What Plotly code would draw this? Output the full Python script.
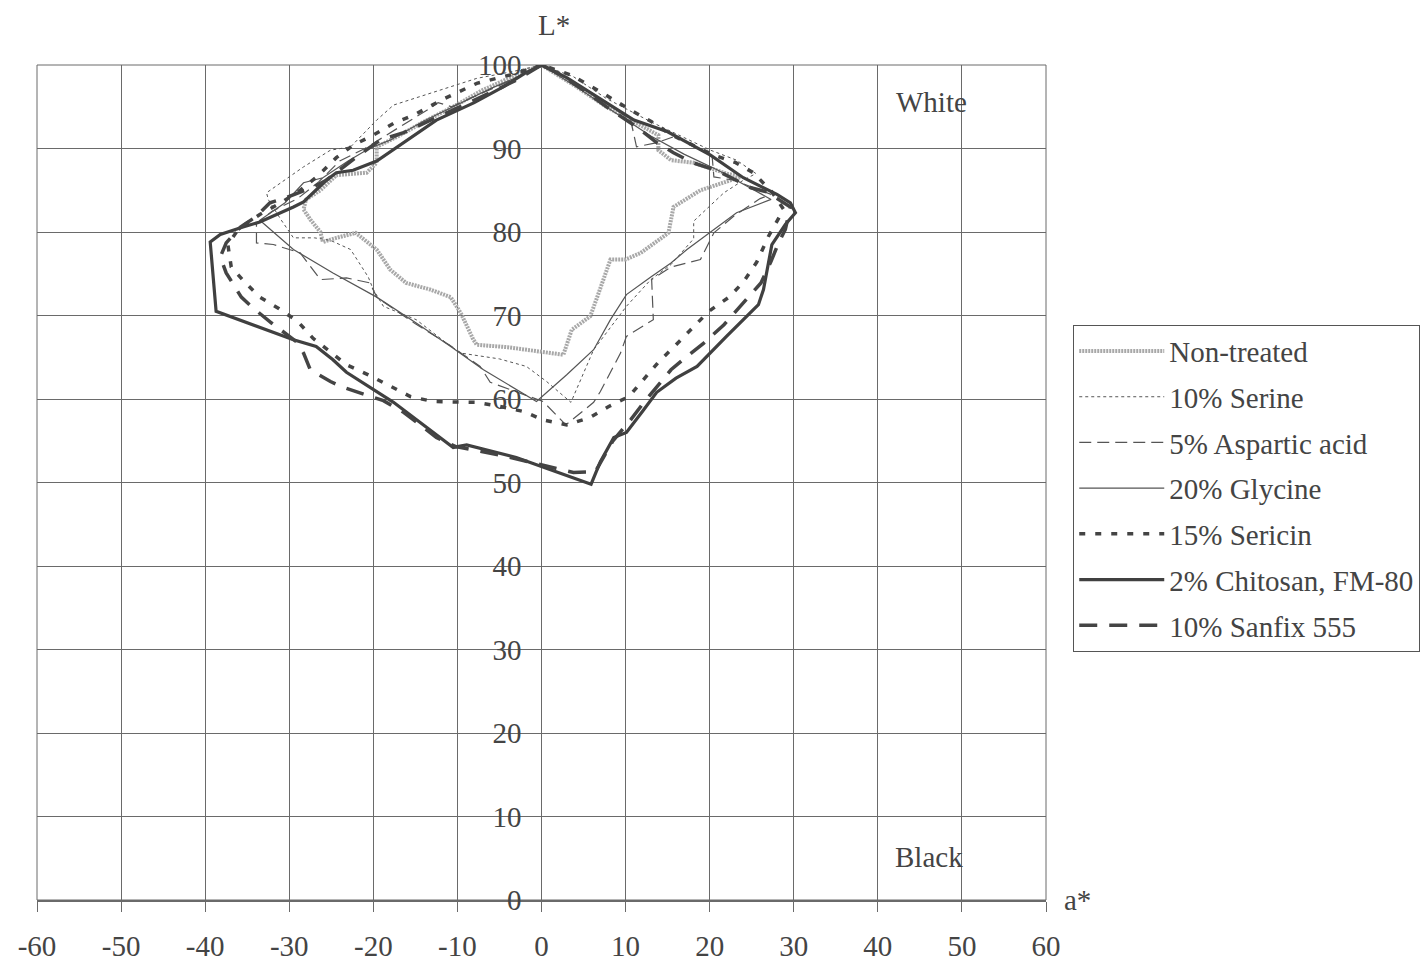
import plotly.graph_objects as go

# ---- colour coordinates (a*, L*) traced around each loop ----
nontreated_a = [0, -3, -7, -10.5, -14, -17, -19.6, -19.6, -20.8, -24.4, -26.3, -28, -28.3, -27.5, -26.3, -26,
                -24.4, -22.1, -19.6, -18, -16.1, -13.2, -10.8, -9.6, -8.1, -7.7, -4, 2.6, 3.6, 5.8, 6.8, 8.2,
                10, 11.8, 15.1, 15.7, 18.9, 22, 23.7, 22, 18.1, 15.4, 13.9, 13.9, 9.8, 7.7, 4, 0]
nontreated_L = [100, 98.8, 97, 95, 93.2, 91.5, 90.2, 88.3, 87.1, 86.8, 85, 83.9, 82.7, 81.5, 80, 78.8,
                79.3, 79.9, 77.9, 75.5, 73.9, 73.1, 72.2, 70.3, 67.1, 66.5, 66.2, 65.3, 68.3, 69.9, 72.7, 76.7,
                76.7, 77.5, 79.9, 83, 85, 86, 86.6, 87, 88.3, 88.6, 89.8, 91.6, 93.8, 95, 97.5, 100]

serine_a = [0, -3.5, -7.7, -12, -16.4, -17.6, -19.6, -22.7, -25.1, -28.3, -32.7, -32.5, -31, -29.5, -27, -25.1,
            -22.7, -20.6, -20, -18.8, -14.9, -11.3, -9.6, -5, -1.8, 0.6, 3.5, 4.5, 6.2, 7.7, 10.1, 13, 15.4,
            18.1, 18.1, 21.7, 24, 25.5, 23.2, 20.1, 13, 7.7, 3.8, 0]
serine_L = [100, 99.2, 98.4, 97, 95.6, 95.2, 93.4, 90.2, 89.8, 87.8, 84.7, 83.9, 81.5, 79.3, 79.3, 79,
            77.9, 74.6, 73.1, 71.1, 69.5, 66.7, 65.5, 64.8, 63.9, 62.1, 59.6, 62, 65.9, 67.9, 71.1, 74.3, 76.1,
            79.2, 81.3, 84.7, 86.2, 87, 88.6, 89.8, 93.2, 96, 98.6, 100]

aspartic_a = [0, -4, -8.5, -10.7, -12.3, -13.1, -17, -21, -24, -26.5, -29, -32, -33.9, -33.9, -31.9, -28.7,
              -26.3, -23.2, -20.4, -19.6, -15, -11, -7.3, -6.1, 0.2, 2.9, 6.2, 7, 9.4, 10.1, 13.3, 13.1, 15.4,
              18.9, 20.5, 23, 26, 27.3, 22.9, 20.5, 20.3, 16, 13.7, 11.3, 11, 10.6, 7, 3, 0]
aspartic_L = [100, 98, 96, 95, 95.5, 94.9, 92.5, 90, 88.5, 86, 84, 82.5, 81, 78.7, 78.5, 77.5,
              74.3, 74.5, 73.9, 72.2, 69, 66.5, 63.9, 62, 59.7, 56.9, 59.6, 60.9, 65.5, 67.5, 69.5, 74.3, 75.8,
              76.7, 79.9, 82, 84, 84.5, 86.2, 86.6, 89, 91.5, 90.7, 90.2, 91.6, 93.4, 96, 98.5, 100]

glycine_a = [0, -3, -6, -10, -14, -18, -20.5, -23, -26, -28.3, -30.5, -33.5, -29.5, -24.8, -19.6, -14.9,
             -10.8, -6.9, -0.6, 3, 6.2, 8.2, 10.1, 13, 15.4, 17.3, 20.1, 23.2, 27.3, 25, 21, 17, 13, 8, 4, 0]
glycine_L = [100, 98.5, 97.2, 95.2, 93.3, 91, 90, 88.5, 86.5, 85.9, 83.5, 81.4, 77.9, 75.1, 72.2, 69.1,
             66.3, 63.5, 59.7, 62.9, 65.9, 69.5, 72.5, 74.6, 76.3, 77.9, 80, 82.3, 83.9, 85.2, 87.4, 89.3, 91.5,
             94.8, 97.5, 100]

sericin_a = [0, -3, -7.7, -11.5, -15.2, -17.6, -20, -22.4, -24.4, -26.5, -28.7, -31, -33.5, -36, -37.3,
             -36.9, -35.3, -33.5, -31.2, -29, -27.2, -25, -23.2, -20.6, -18, -15.6, -12.9, -10.1, -7.7, -4.9,
             -2.1, 0.2, 3, 5.8, 8, 10.4, 12.1, 13.9, 16, 17.9, 19.9, 22.3, 24, 25.6, 27, 28.8, 27.4, 25.2,
             23.1, 20.5, 18.1, 15.5, 13.1, 10.6, 7, 3.5, 0]
sericin_L = [100, 99, 97.8, 96, 94, 93, 91.6, 90.4, 88.9, 86.8, 85, 83.5, 82.1, 80.4, 78.5,
             75.8, 74, 72.2, 70.8, 69.3, 67.3, 65.6, 64.1, 62.9, 61.5, 60.3, 59.7, 59.7, 59.6, 59.1,
             58.5, 57.5, 56.9, 57.8, 59.1, 60.3, 62.3, 64.4, 66.5, 68.5, 70.5, 72.2, 74, 76.4, 79.5, 82.7, 84.8, 87.1,
             88.3, 89.2, 90.4, 91.6, 93.2, 94.6, 96.8, 98.8, 100]

chitosan_a = [0, -2, -4.5, -8, -12.5, -16, -19.6, -22.4, -24.4, -25.6, -28.3, -29.5, -33.5, -35.5, -38.2,
              -39.4, -38.7, -29.5, -26.8, -24.8, -23.2, -17.6, -10.5, -8.9, -3, 5.9, 7, 8.6, 10.1, 12, 13.7,
              16, 18.5, 22, 25.8, 26.4, 27.4, 29, 30.2, 29.6, 28, 24, 20.1, 15, 11, 7.7, 3, 0]
chitosan_L = [100, 99, 97.4, 95.5, 93.4, 91, 88.5, 87.4, 87.1, 86.2, 83.6, 83, 81.2, 80.6, 79.7,
              78.8, 70.5, 67.1, 66.3, 64.7, 63.2, 59.6, 54.2, 54.5, 53, 49.8, 52.5, 55.4, 56, 58.5, 60.8,
              62.5, 63.9, 67.5, 71.3, 73.1, 78.5, 80.9, 82.3, 83.5, 84.5, 86.5, 89.2, 92, 93.4, 95.5, 98.5, 100]

sanfix_a = [0, -3, -5.4, -9, -13.2, -16.4, -19.2, -22, -25.6, -27.1, -30.4, -32.3, -34, -35.8, -37.5, -38.2,
            -37.5, -35.7, -34.3, -32.1, -29.2, -28.3, -27.5, -25.1, -23.6, -20.8, -18.8, -16.4, -14.4, -12.5,
            -10.2, -5, 3.8, 6.4, 8.5, 10.6, 12.1, 13.7, 15.4, 17.3, 19.3, 21.7, 24.4, 26.1, 27.3, 28.2, 29,
            29.6, 26.8, 24.9, 21, 18, 15.7, 13.7, 11.3, 8, 5, 2, 0]
sanfix_L = [100, 98.2, 97, 95.3, 93.4, 91.9, 91, 89, 86.2, 85.4, 84.1, 83.5, 81.8, 80.6, 78.7, 77,
            75.1, 72.2, 70.9, 69.1, 66.9, 65.5, 63.5, 62.1, 61.4, 60.5, 59.8, 58.4, 56.9, 55.4,
            54.3, 53.3, 51.2, 51.3, 55, 57.5, 59.5, 61.5, 63.5, 65.1, 66.7, 68.9, 71.9, 73.9, 76.5, 78.7, 80.3,
            83, 84.8, 85.3, 87.3, 88.3, 89.5, 90.7, 92.6, 94.8, 97, 99, 100]

series_names = ["Non-treated", "10% Serine", "5% Aspartic acid", "20% Glycine",
                "15% Sericin", "2% Chitosan, FM-80", "10% Sanfix 555"]

x_ticks = [-60, -50, -40, -30, -20, -10, 0, 10, 20, 30, 40, 50, 60]
y_ticks = [0, 10, 20, 30, 40, 50, 60, 70, 80, 90, 100]

FONT = "Liberation Serif"
FS = 29
INK = "#444444"
GRID = "#6a6a6a"

styles = [
    dict(color="#a8a8a8", width=4, dash="2px,1px"),
    dict(color="#555555", width=1, dash="3px,3px"),
    dict(color="#555555", width=1.2, dash="12px,6px"),
    dict(color="#555555", width=1.2, dash="solid"),
    dict(color="#444444", width=3.5, dash="6px,10px"),
    dict(color="#404040", width=3.2, dash="solid"),
    dict(color="#444444", width=3.5, dash="18px,12px"),
]

data = [
    (nontreated_a, nontreated_L),
    (serine_a, serine_L),
    (aspartic_a, aspartic_L),
    (glycine_a, glycine_L),
    (sericin_a, sericin_L),
    (chitosan_a, chitosan_L),
    (sanfix_a, sanfix_L),
]

fig = go.Figure()
for i, (name, (a, L), st) in enumerate(zip(series_names, data, styles)):
    fig.add_trace(go.Scatter(x=a, y=L, mode="lines", name=name, line=st,
                             legendgroup=f"g{i}"))

fig.update_layout(
    width=1428, height=965,
    margin=dict(l=37, r=382, t=65, b=65, autoexpand=False),
    paper_bgcolor="white", plot_bgcolor="white",
    font=dict(family=FONT, size=FS, color=INK),
    showlegend=True,
    legend=dict(
        x=1.027, y=0.689, xanchor="left", yanchor="top",
        bordercolor="#555555", borderwidth=1, bgcolor="white",
        font=dict(family=FONT, size=FS, color=INK),
        itemwidth=85, tracegroupgap=5, traceorder="grouped",
    ),
    xaxis=dict(
        range=[-60, 60], tickvals=x_ticks, ticktext=[str(v) for v in x_ticks],
        showgrid=True, gridcolor=GRID, gridwidth=1, zeroline=False, automargin=False,
        showline=True, linecolor=GRID, linewidth=1.5,
        ticks="outside", ticklen=10, tickcolor=GRID, ticklabelstandoff=9,
        tickfont=dict(family=FONT, size=FS, color=INK),
    ),
    yaxis=dict(
        range=[0, 100], tickvals=y_ticks, ticktext=[str(v) for v in y_ticks],
        anchor="free", position=0.5, automargin=False,
        showgrid=True, gridcolor=GRID, gridwidth=1, zeroline=False,
        showline=False, ticks="", ticklabelstandoff=20,
        tickfont=dict(family=FONT, size=FS, color=INK),
    ),
    shapes=[dict(type="rect", xref="paper", yref="paper", x0=0, x1=1, y0=0, y1=1,
                 line=dict(color=GRID, width=1), layer="below")],
    annotations=[
        dict(text="L*", x=1.5, y=1.048, xref="x", yref="paper", yanchor="middle",
             showarrow=False, font=dict(family=FONT, size=FS, color=INK)),
        dict(text="a*", x=1.016, y=0.0, xref="paper", yref="paper", xanchor="left",
             yanchor="middle", showarrow=False, font=dict(family=FONT, size=FS, color=INK)),
        dict(text="White", x=46.4, y=95.6, xref="x", yref="y", yanchor="middle",
             showarrow=False, font=dict(family=FONT, size=FS, color=INK)),
        dict(text="Black", x=46.1, y=5.2, xref="x", yref="y", yanchor="middle",
             showarrow=False, font=dict(family=FONT, size=FS, color=INK)),
    ],
)

fig.write_html("out.html")
